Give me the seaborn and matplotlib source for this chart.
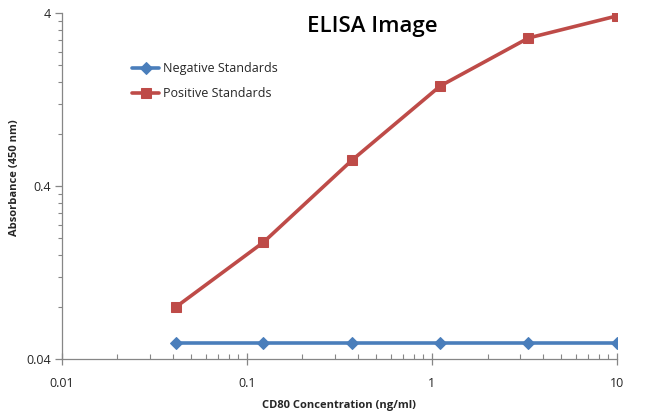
import numpy as np
import pandas as pd
import matplotlib
matplotlib.use('Agg')
import matplotlib.pyplot as plt
import matplotlib.ticker as mticker
import seaborn as sns

# datos
concentracion = [0.0412, 0.123, 0.370, 1.11, 3.33, 10.0]
negativos = [0.050, 0.050, 0.050, 0.050, 0.050, 0.050]
positivos = [0.080, 0.190, 0.566, 1.52, 2.88, 3.86]

x_ticks = [0.01, 0.1, 1, 10]
x_labels = ['0.01', '0.1', '1', '10']
y_ticks = [0.04, 0.4, 4]
y_labels = ['0.04', '0.4', '4']

sns.set_style('white')
plt.rcParams['font.family'] = ['Open Sans', 'DejaVu Sans']

fig = plt.figure(figsize=(6.5, 4.15), dpi=100)
ax = fig.add_axes([0.095, 0.134, 0.854, 0.834])

azul = '#4A7EBB'
rojo = '#BE4B48'

sns.lineplot(x=concentracion, y=negativos, ax=ax, color=azul, linewidth=2.6,
             marker='D', markersize=6.5, markeredgecolor=azul, label='Negative Standards')
sns.lineplot(x=concentracion, y=positivos, ax=ax, color=rojo, linewidth=2.6,
             marker='s', markersize=7, markeredgecolor=rojo, label='Positive Standards')

ax.set_xscale('log')
ax.set_yscale('log')
ax.set_xlim(0.01, 10)
ax.set_ylim(0.04, 4)

ax.xaxis.set_major_locator(mticker.FixedLocator(x_ticks))
ax.xaxis.set_major_formatter(mticker.FixedFormatter(x_labels))
ax.xaxis.set_minor_locator(mticker.LogLocator(base=10, subs=np.arange(2, 10)))
ax.xaxis.set_minor_formatter(mticker.NullFormatter())

y_minor = [y_ticks[0] * k for k in range(2, 10)] + [y_ticks[1] * k for k in range(2, 10)]
ax.yaxis.set_major_locator(mticker.FixedLocator(y_ticks))
ax.yaxis.set_major_formatter(mticker.FixedFormatter(y_labels))
ax.yaxis.set_minor_locator(mticker.FixedLocator(y_minor))
ax.yaxis.set_minor_formatter(mticker.NullFormatter())

gris = '#868686'
for lado in ['top', 'right']:
    ax.spines[lado].set_visible(False)
for lado in ['left', 'bottom']:
    ax.spines[lado].set_color(gris)
    ax.spines[lado].set_linewidth(0.9)

ax.tick_params(axis='x', which='major', bottom=True, direction='inout', length=8, width=0.9,
               color=gris, labelsize=9, labelcolor='#262626', pad=9)
ax.tick_params(axis='x', which='minor', bottom=True, direction='in', length=3.5, width=0.8, color=gris)
ax.tick_params(axis='y', which='major', left=True, direction='out', length=5, width=0.9,
               color=gris, labelsize=9, labelcolor='#262626', pad=3)
ax.tick_params(axis='y', which='minor', left=True, direction='out', length=3, width=0.8, color=gris)

ax.set_xlabel('CD80 Concentration (ng/ml)', fontsize=8, fontweight='bold', labelpad=7)
ax.set_ylabel('Absorbance (450 nm)', fontsize=8, fontweight='bold')
ax.yaxis.set_label_coords(-0.075, 0.525)

fig.text(0.573, 0.937, 'ELISA Image', fontsize=16, fontweight='semibold',
         ha='center', va='center', color='black')

ax.legend(loc='upper left', bbox_to_anchor=(0.203, 0.850), bbox_transform=fig.transFigure,
          frameon=False, fontsize=9, handlelength=2.2, handletextpad=0.3,
          labelspacing=0.95, borderaxespad=0, borderpad=0)

fig.savefig('out.png', dpi=100, facecolor='white')
